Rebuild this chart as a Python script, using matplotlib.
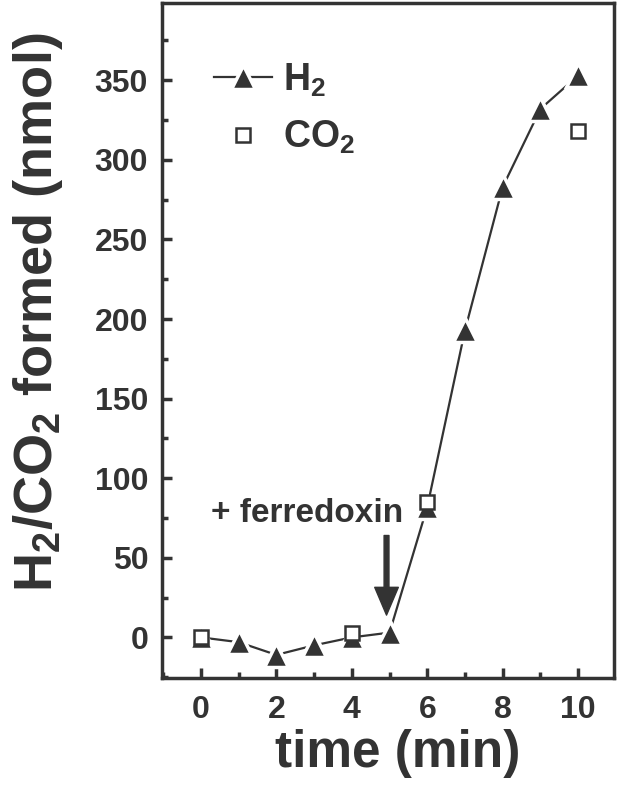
import matplotlib
matplotlib.use("Agg")
import matplotlib.pyplot as plt
from matplotlib.ticker import MultipleLocator

# values
time_h2 = [0, 1, 2, 3, 4, 5, 6, 7, 8, 9, 10]
h2_nmol = [0, -3, -11, -5, 0, 3, 82, 193, 283, 332, 353]
time_co2 = [0, 4, 6, 10]
co2_nmol = [0, 3, 85, 318]

ink = "#333333"

plt.rcParams["font.family"] = ["Liberation Sans", "DejaVu Sans"]
plt.rcParams["font.weight"] = "bold"
plt.rcParams["mathtext.fontset"] = "custom"
plt.rcParams["mathtext.rm"] = "Liberation Sans:bold"
plt.rcParams["mathtext.it"] = "Liberation Sans:bold"
plt.rcParams["mathtext.bf"] = "Liberation Sans:bold"
plt.rcParams["text.color"] = ink
plt.rcParams["axes.labelcolor"] = ink

fig = plt.figure(figsize=(6.22, 7.95), dpi=100)
ax = fig.add_axes([0.2605, 0.1472, 0.7267, 0.849])

h2_line, = ax.plot(time_h2, h2_nmol, color=ink, lw=1.6, marker="^", ms=17,
                   mfc=ink, mec="white", mew=2.5, zorder=3)
co2_pts, = ax.plot(time_co2, co2_nmol, ls="none", marker="s", ms=10,
                   mfc="white", mec=ink, mew=1.8, zorder=4)

ax.annotate("", xy=(4.92, 14), xytext=(4.92, 64),
            arrowprops=dict(width=3.5, headwidth=17, headlength=20,
                            color=ink, shrink=0))
ax.text(2.82, 78, "+ ferredoxin", fontsize=24, fontweight="bold",
        ha="center", va="center", color=ink)

ax.set_xlim(-1.03, 10.95)
ax.set_ylim(-25.5, 398.5)
ax.xaxis.set_major_locator(MultipleLocator(2))
ax.xaxis.set_minor_locator(MultipleLocator(1))
ax.yaxis.set_major_locator(MultipleLocator(50))
ax.yaxis.set_minor_locator(MultipleLocator(25))

for s in ax.spines.values():
    s.set_linewidth(2.5)
    s.set_color(ink)
ax.tick_params(which="both", direction="in", color=ink, width=2.5,
               labelcolor=ink, top=False, right=False)
ax.tick_params(which="major", length=7, labelsize=23)
ax.tick_params(which="minor", length=4)
ax.tick_params(axis="x", pad=12)
ax.tick_params(axis="y", pad=10)

ax.set_xlabel("time (min)", fontsize=37, fontweight="bold")
ax.xaxis.set_label_coords(0.522, -0.075)
ax.xaxis.label.set_va("top")
ax.set_ylabel(r"H$_2$/CO$_2$ formed (nmol)", fontsize=39, fontweight="bold")
ax.yaxis.set_label_coords(-0.215, 0.542)

ax.legend([h2_line, co2_pts], [r"H$_2$", r"CO$_2$"], loc="upper left",
          bbox_to_anchor=(0.082, 0.936), frameon=False, fontsize=27,
          handlelength=1.55, handletextpad=0.3, labelspacing=0.55,
          borderaxespad=0)

fig.savefig("out.png", dpi=100)
